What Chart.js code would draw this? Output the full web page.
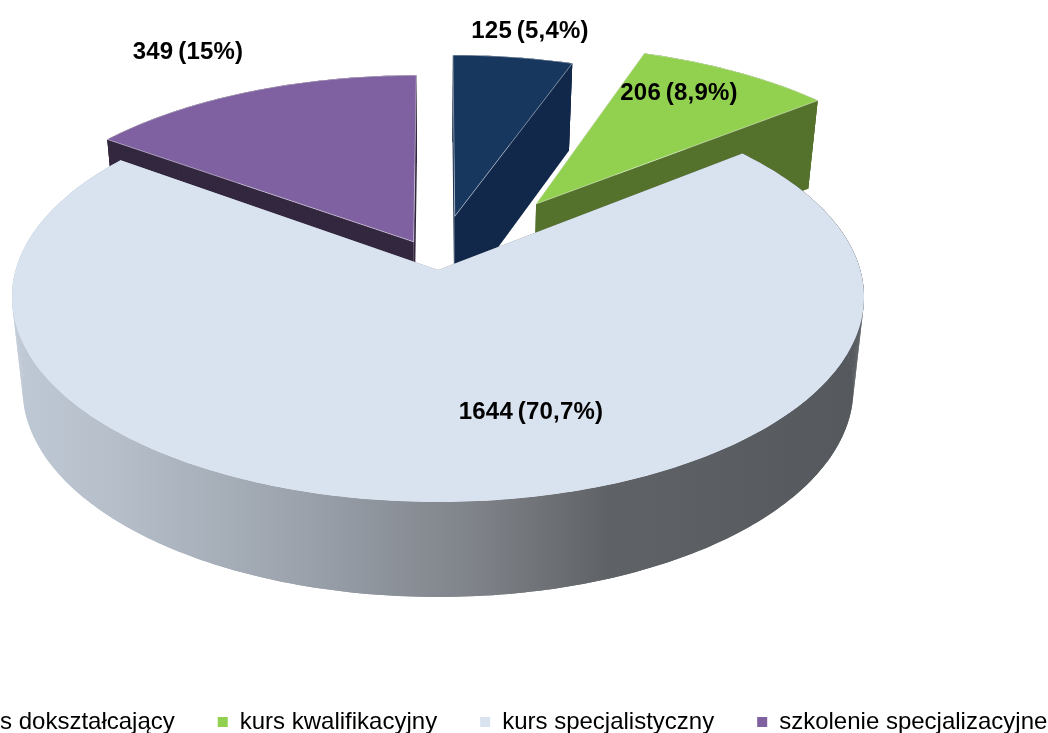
<!DOCTYPE html>
<html lang="pl">
<head>
<meta charset="utf-8">
<title>Wykres</title>
<script src="https://cdn.jsdelivr.net/npm/chart.js@4/dist/chart.umd.min.js"></script>
<style>
  html, body { margin: 0; padding: 0; width: 1048px; height: 733px; overflow: hidden; background: #fff; }
  /* legenda w oryginale jest ucieta z lewej, wiec canvas wystaje poza okno */
  #wrap { position: absolute; left: -111px; top: 0; width: 1214px; height: 744px; }
</style>
</head>
<body>
<div id="wrap"><canvas id="pieChart" width="1214" height="744"></canvas></div>
<script>
/* ================= DATA ================= */
const categories = ["kurs dokształcający", "kurs kwalifikacyjny", "kurs specjalistyczny", "szkolenie specjalizacyjne"];
const values = [125, 206, 1644, 349];
const valueLabels = ["125 (5,4%)", "206 (8,9%)", "1644 (70,7%)", "349 (15%)"];

/* ================= STYLE ================= */
const topColors = ["#17375E", "#92D050", "#D9E3F0", "#7F60A0"];
const wallColors = ["#12284A", "#54722B", null, "#33273F"];
const explode = [84, 126, 0, 48]; // px, przy promieniu 300
const nudgeU = [-0.006, 0, 0, 0.014];
const RADIUS = 300;
const SHIFT = 111;
const labelSpots = [[530, 31], [679, 93], [531, 412], [188, 52]];

/* ================= PERSPECTIVE ================= */
// tarcza (u, v) -> ekran, zeby wierzcholek nie wypadal w srodku elipsy
function project(u, v) {
  const w = 1 - 0.1317 * v;
  return { x: 438 + SHIFT + (u * 422.3) / w, y: 270 + (v * 201.4) / w };
}

function projectBottom(u, v) {
  const p = project(u, v);
  return { x: 438 + SHIFT + (p.x - 438 - SHIFT) * 0.975, y: p.y + 91.5 + 3.5 * v };
}

function sliceOutline(arc, i) {
  const p = arc.getProps(["startAngle", "endAngle"], true);
  const off = (arc.options.offset || 0) / RADIUS;
  const mid = (p.startAngle + p.endAngle) / 2;
  const u0 = Math.cos(mid) * off + nudgeU[i];
  const v0 = Math.sin(mid) * off;
  // wysuniete kawalki sa w oryginale troche krotsze
  const su = off ? 0.985 : 1;
  const sv = off ? 0.965 : 1;
  const rim = [];
  const steps = Math.ceil((p.endAngle - p.startAngle) * 60);
  for (let k = 0; k <= steps; k++) {
    const a = p.startAngle + ((p.endAngle - p.startAngle) * k) / steps;
    rim.push([u0 + Math.cos(a) * su, v0 + Math.sin(a) * sv]);
  }
  return { apex: [u0, v0], rim };
}

function fillPoly(ctx, pts, fill) {
  ctx.beginPath();
  pts.forEach((q, i) => (i ? ctx.lineTo(q.x, q.y) : ctx.moveTo(q.x, q.y)));
  ctx.closePath();
  ctx.fillStyle = fill;
  ctx.fill();
}

function wallGradient(ctx) {
  const g = ctx.createLinearGradient(15 + SHIFT, 0, 860 + SHIFT, 0);
  g.addColorStop(0, "#BFC9D5");
  g.addColorStop(0.12, "#B5BEC9");
  g.addColorStop(0.34, "#9BA2AC");
  g.addColorStop(0.55, "#7E8288");
  g.addColorStop(0.7, "#5F6266");
  g.addColorStop(1, "#55585C");
  return g;
}

function drawSlice(ctx, arc, i) {
  const { apex, rim } = sliceOutline(arc, i);
  const wall = wallColors[i] || wallGradient(ctx);

  // sciany: dwa boki i obwod, gora i tak je przykrywa tam gdzie trzeba
  const first = rim[0];
  const last = rim[rim.length - 1];
  [first, last].forEach((e) => {
    fillPoly(ctx, [project(...apex), project(...e), projectBottom(...e), projectBottom(...apex)], wall);
  });
  const band = rim.map((q) => project(...q)).concat(rim.map((q) => projectBottom(...q)).reverse());
  fillPoly(ctx, band, wall);
  // sam pas nie daje prostej krawedzi po bokach, wiec jeszcze czworokaty
  for (let k = 0; k < rim.length - 1; k++) {
    const a = rim[k];
    const b = rim[k + 1];
    fillPoly(ctx, [project(...a), project(...b), projectBottom(...b), projectBottom(...a)], wall);
  }

  // gora
  const top = [project(...apex)].concat(rim.map((q) => project(...q)));
  fillPoly(ctx, top, arc.options.backgroundColor);
  if (i !== 2) {
    ctx.beginPath();
    top.forEach((q, k) => (k ? ctx.lineTo(q.x, q.y) : ctx.moveTo(q.x, q.y)));
    ctx.closePath();
    ctx.strokeStyle = "rgba(255,255,255,0.45)";
    ctx.lineWidth = 1;
    ctx.stroke();
  }
}

const pie3d = {
  id: "pie3d",
  beforeDatasetsDraw(chart) {
    const ctx = chart.ctx;
    const arcs = chart.getDatasetMeta(0).data;
    ctx.save();
    ctx.lineJoin = "round";
    [0, 1, 3, 2].forEach((i) => drawSlice(ctx, arcs[i], i)); // jasny na koncu
    ctx.restore();
    return false;
  },
  afterDraw(chart) {
    const ctx = chart.ctx;
    ctx.save();
    ctx.font = "bold 24px 'Liberation Sans', Arial, sans-serif";
    ctx.wordSpacing = "-2px";
    ctx.letterSpacing = "0.2px";
    ctx.fillStyle = "#000";
    ctx.textAlign = "center";
    ctx.textBaseline = "middle";
    valueLabels.forEach((t, i) => {
      ctx.fillText(t, labelSpots[i][0] + SHIFT, labelSpots[i][1]);
    });
    ctx.restore();
  }
};

/* ================= CHART ================= */
new Chart(document.getElementById("pieChart"), {
  type: "pie",
  data: {
    labels: categories,
    datasets: [{
      data: values,
      backgroundColor: topColors,
      borderWidth: 0,
      offset: explode
    }]
  },
  options: {
    responsive: false,
    animation: false,
    radius: RADIUS,
    plugins: {
      tooltip: { enabled: false },
      legend: {
        position: "bottom",
        labels: {
          boxWidth: 10,
          boxHeight: 10,
          padding: 43,
          color: "#000",
          font: { family: "'Liberation Sans', Arial, sans-serif", size: 24 }
        }
      }
    }
  },
  plugins: [pie3d]
});
</script>
</body>
</html>
